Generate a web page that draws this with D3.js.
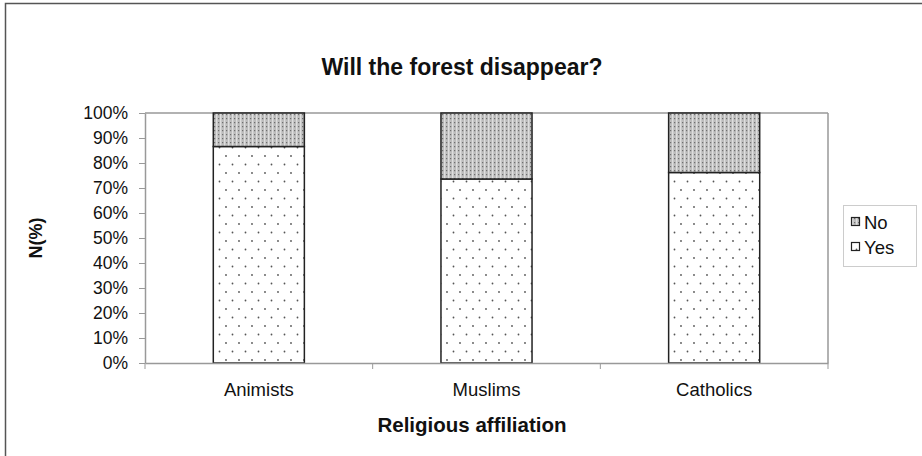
<!DOCTYPE html>
<html><head><meta charset="utf-8">
<script src="https://cdn.jsdelivr.net/npm/d3@7"></script>
<style>body{margin:0;background:#fff;} svg{display:block;font-family:"Liberation Sans",Arial,sans-serif;}</style>
</head><body>
<svg id="c" width="922" height="456"></svg>
<script>
const categories = ["Animists", "Muslims", "Catholics"];
const yesValues = [86.6, 73.6, 76.2];
const noValues = [13.4, 26.4, 23.8];
const seriesNames = ["Yes", "No"];
const yTicks = [0,10,20,30,40,50,60,70,80,90,100];

const svg = d3.select("#c");
const m = {l:145, t:113, r:828, b:363};

svg.append("rect").attr("x",5.5).attr("y",3.5).attr("width",940).attr("height",480)
  .attr("fill","none").attr("stroke","#555").attr("stroke-width",1.5);

const defs = svg.append("defs");
const pYes = defs.append("pattern").attr("id","pYes").attr("patternUnits","userSpaceOnUse")
  .attr("width",13).attr("height",17).attr("x",m.l).attr("y",0);
pYes.append("rect").attr("width",13).attr("height",17).attr("fill","#fff");
pYes.append("circle").attr("cx",3).attr("cy",3).attr("r",0.9).attr("fill","#555");
pYes.append("circle").attr("cx",9.5).attr("cy",11.5).attr("r",0.9).attr("fill","#555");
const pNo = defs.append("pattern").attr("id","pNo").attr("patternUnits","userSpaceOnUse")
  .attr("width",4).attr("height",4);
pNo.append("rect").attr("width",4).attr("height",4).attr("fill","#bdbdbd");
pNo.append("rect").attr("x",0).attr("y",0).attr("width",1.3).attr("height",4).attr("fill","#dedede");
pNo.append("rect").attr("x",2).attr("y",2).attr("width",1.2).attr("height",1.2).attr("fill","#6f6f6f");

const x = d3.scaleBand().domain(categories).range([m.l, m.r]).paddingInner(0.6).paddingOuter(0.3);
const y = d3.scaleLinear().domain([0,100]).range([m.b, m.t]);

svg.append("line").attr("x1",m.l).attr("x2",m.r).attr("y1",m.t).attr("y2",m.t).attr("stroke","#999").attr("stroke-width",1.5);
svg.append("line").attr("x1",m.r).attr("x2",m.r).attr("y1",m.t).attr("y2",m.b).attr("stroke","#999").attr("stroke-width",1.5);

const data = categories.map((c,i)=>({cat:c, Yes:yesValues[i], No:noValues[i]}));
const stacked = d3.stack().keys(seriesNames)(data);
const fills = {Yes:"url(#pYes)", No:"url(#pNo)"};
svg.append("g").selectAll("g").data(stacked).join("g")
  .attr("fill", d=>fills[d.key])
  .selectAll("rect").data(d=>d).join("rect")
  .attr("x", d=>x(d.data.cat)).attr("width", x.bandwidth())
  .attr("y", d=>y(d[1])).attr("height", d=>y(d[0])-y(d[1]))
  .attr("stroke","#222").attr("stroke-width",1.5);

const ya = svg.append("g").attr("transform",`translate(${m.l},0)`)
  .call(d3.axisLeft(y).tickValues(yTicks).tickFormat(d=>d+"%").tickSize(6).tickPadding(11).tickSizeOuter(0));
ya.select(".domain").attr("stroke","#999").attr("stroke-width",1.5);
ya.selectAll(".tick line").attr("stroke","#999");
ya.selectAll("text").attr("font-size",17.5).attr("fill","#111").attr("font-family","Liberation Sans, Arial, sans-serif");

const xa = svg.append("g").attr("transform",`translate(0,${m.b})`)
  .call(d3.axisBottom(x).tickSize(0).tickPadding(20));
xa.select(".domain").attr("stroke","#999").attr("stroke-width",1.5);
xa.selectAll("text").attr("font-size",18.5).attr("fill","#111").attr("font-family","Liberation Sans, Arial, sans-serif");
const seps = d3.range(0, categories.length+1).map(i=>m.l + i*(m.r-m.l)/categories.length);
svg.append("g").selectAll("line").data(seps).join("line")
  .attr("x1",d=>d).attr("x2",d=>d).attr("y1",m.b).attr("y2",m.b+6).attr("stroke","#999");

svg.append("text").attr("x",462).attr("y",75).attr("text-anchor","middle")
  .attr("font-size",23).attr("font-weight","bold").attr("fill","#111").text("Will the forest disappear?");
svg.append("text").attr("x",472).attr("y",432).attr("text-anchor","middle")
  .attr("font-size",20.5).attr("font-weight","bold").attr("fill","#111").text("Religious affiliation");
svg.append("text").attr("transform","translate(42,238) rotate(-90)").attr("text-anchor","middle")
  .attr("font-size",18).attr("font-weight","bold").attr("fill","#111").text("N(%)");

const lg = svg.append("g");
lg.append("rect").attr("x",843.5).attr("y",205.5).attr("width",73).attr("height",61)
  .attr("fill","#fff").attr("stroke","#ccc");
const legendItems = ["No","Yes"];
legendItems.forEach((k,i)=>{
  const yy = 222 + i*25;
  lg.append("rect").attr("x",851.5).attr("y",yy-4.5).attr("width",8).attr("height",8)
    .attr("fill",fills[k]).attr("stroke","#222").attr("stroke-width",1.2);
  lg.append("text").attr("x",864).attr("y",yy+6.5).attr("font-size",18.5).attr("fill","#111").text(k);
});
</script>
</body></html>
